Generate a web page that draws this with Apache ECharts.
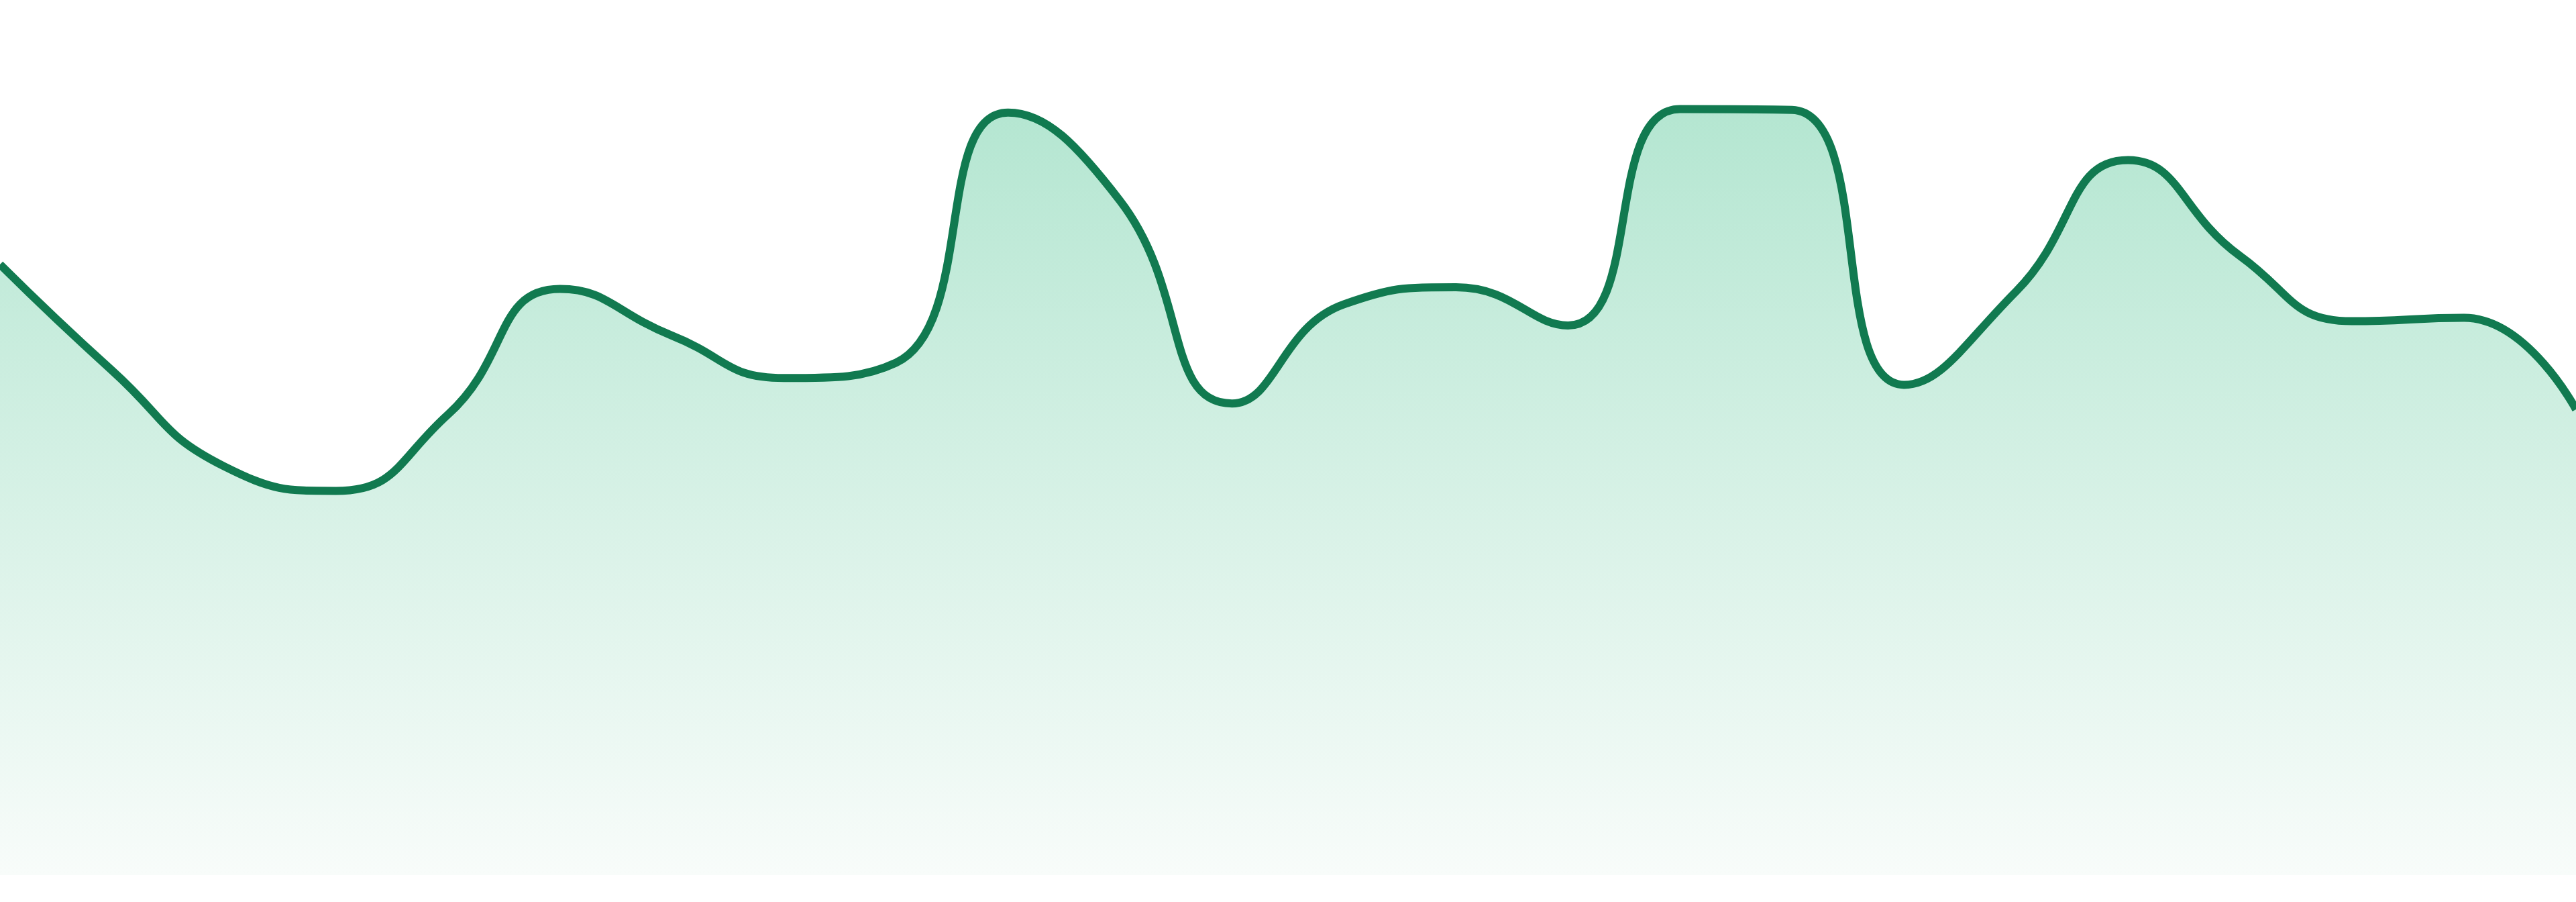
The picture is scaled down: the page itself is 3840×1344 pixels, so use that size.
<!DOCTYPE html>
<html>
<head>
<meta charset="utf-8">
<script src="https://cdn.jsdelivr.net/npm/echarts@6/dist/echarts.min.js"></script>
<style>
html,body{margin:0;padding:0;background:#ffffff;}
#chart{width:3840px;height:1344px;}
</style>
</head>
<body>
<div id="chart"></div>
<script>
const categories = ["1","2","3","4","5","6","7","8","9","10","11","12","13","14","15","16","17","18","19","20","21","22","23","24"];
const values = [72.0, 59.5, 48.2, 45.3, 54.3, 69.1, 63.6, 58.6, 60.4, 89.9, 79.5, 55.6, 67.3, 69.3, 64.8, 90.3, 90.2, 57.8, 68.8, 84.3, 73.0, 65.3, 65.7, 54.9];
const yMin = 0;
const yMax = 100;

const chart = echarts.init(document.getElementById('chart'), null, {renderer: 'canvas'});
chart.setOption({
  animation: false,
  backgroundColor: '#ffffff',
  grid: {left: 0, right: 0, top: 40, bottom: 40},
  xAxis: {
    type: 'category',
    data: categories,
    boundaryGap: false,
    show: false
  },
  yAxis: {
    type: 'value',
    min: yMin,
    max: yMax,
    show: false,
    splitLine: {show: false}
  },
  series: [{
    type: 'line',
    data: values,
    smooth: true,
    showSymbol: false,
    symbol: 'none',
    lineStyle: {color: '#117a50', width: 12},
    areaStyle: {
      opacity: 1,
      color: new echarts.graphic.LinearGradient(0, 0, 0, 1, [
        {offset: 0, color: '#b4e6d1'},
        {offset: 1, color: '#f8fcfa'}
      ])
    }
  }]
});
</script>
</body>
</html>
